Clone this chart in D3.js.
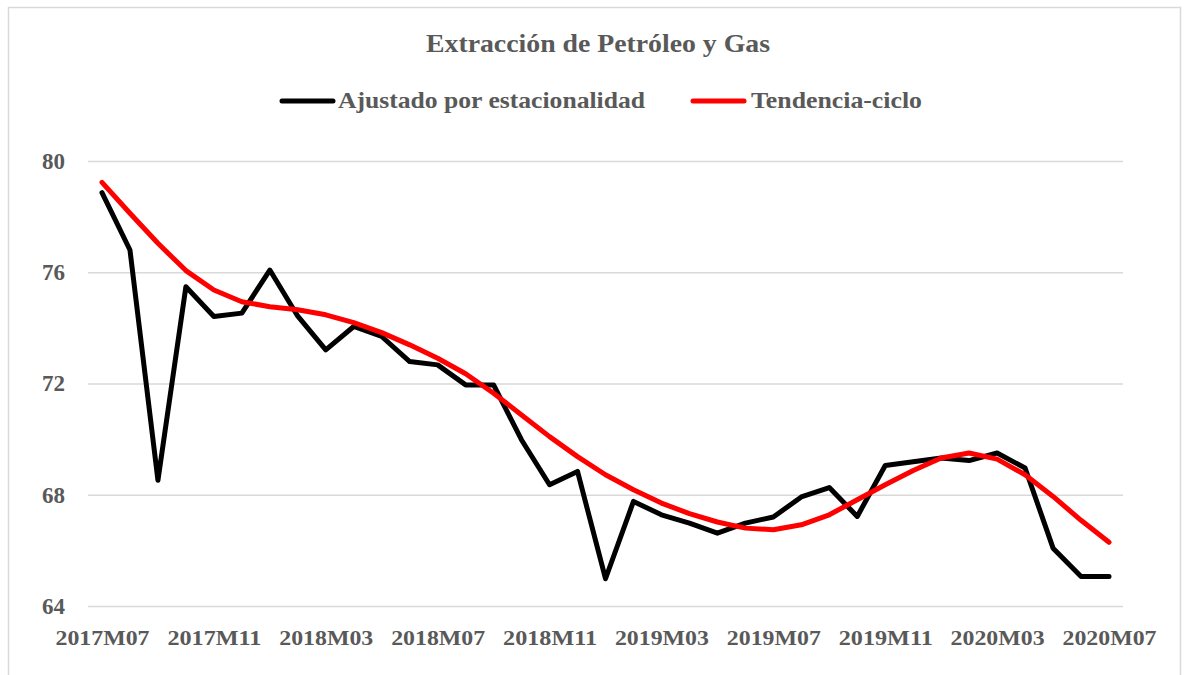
<!DOCTYPE html>
<html>
<head>
<meta charset="utf-8">
<script src="https://cdn.jsdelivr.net/npm/d3@7"></script>
<style>
  body { margin: 0; background: #fff; }
  text { font-family: "Liberation Serif", "DejaVu Serif", serif; font-weight: bold; fill: #595959; }
</style>
</head>
<body>
<div id="viz"></div>
<script>
// monthly periods 2017M07 .. 2020M07
const periods = [];
for (let y = 2017, m = 7; y < 2020 || (y === 2020 && m <= 7); ) {
    periods.push(y + "M" + String(m).padStart(2, "0"));
    m++;
    if (m > 12) { m = 1; y++; }
}

const ajustado = [78.86, 76.80, 68.52, 75.48, 74.41, 74.53, 76.08, 74.42, 73.21, 74.05,
    73.69, 72.79, 72.67, 71.95, 71.95, 69.97, 68.36, 68.84, 64.98, 67.76,
    67.28, 66.98, 66.62, 66.98, 67.20, 67.92, 68.26, 67.22, 69.05, 69.19,
    69.32, 69.23, 69.50, 68.96, 66.08, 65.06, 65.06];

const tendencia = [79.23, 78.12, 77.04, 76.06, 75.36, 74.94, 74.76, 74.65, 74.47, 74.19,
    73.83, 73.39, 72.91, 72.35, 71.65, 70.87, 70.09, 69.37, 68.72, 68.18,
    67.70, 67.32, 67.02, 66.80, 66.74, 66.92, 67.28, 67.82, 68.36, 68.87,
    69.32, 69.50, 69.28, 68.72, 67.94, 67.08, 66.29];

const yTicks = [64, 68, 72, 76, 80];
const xTickLabels = periods.filter((d, i) => i % 4 === 0);

const series = [
    {name: "Ajustado por estacionalidad", values: ajustado, color: "#000000"},
    {name: "Tendencia-ciclo", values: tendencia, color: "#ff0000"}
];

const W = 1188, H = 675;
const margin = {top: 161, right: 65, bottom: 69, left: 88},
    width = W - margin.left - margin.right,
    height = H - margin.top - margin.bottom;

const root = d3.select("#viz")
    .append("svg")
    .attr("width", W)
    .attr("height", H);

// outer chart border
root.append("rect")
    .attr("x", 8.5).attr("y", 7.5)
    .attr("width", 1172).attr("height", 700)
    .attr("fill", "none")
    .attr("stroke", "#d9d9d9")
    .attr("stroke-width", 1.5);

root.append("text")
    .attr("x", 426).attr("y", 52)
    .attr("textLength", 344)
    .attr("lengthAdjust", "spacingAndGlyphs")
    .style("font-size", "25px")
    .text("Extracción de Petróleo y Gas");

// legend
const legendItems = [
    {x: 282, tx: 338, len: 307},
    {x: 693, tx: 751, len: 171}
];
legendItems.forEach((p, i) => {
    root.append("line")
        .attr("x1", p.x).attr("x2", p.x + 51)
        .attr("y1", 101).attr("y2", 101)
        .attr("stroke", series[i].color)
        .attr("stroke-width", 5)
        .attr("stroke-linecap", "round");
    root.append("text")
        .attr("x", p.tx).attr("y", 108)
        .attr("textLength", p.len)
        .attr("lengthAdjust", "spacingAndGlyphs")
        .style("font-size", "23px")
        .text(series[i].name);
});

const svg = root.append("g")
    .attr("transform", "translate(" + margin.left + "," + margin.top + ")");

const xScale = d3.scalePoint()
    .domain(periods)
    .range([0, width])
    .padding(0.5);

const yScale = d3.scaleLinear()
    .domain([64, 80])
    .range([height, 0]);

// gridlines
svg.append("g")
    .call(d3.axisLeft(yScale).tickValues(yTicks).tickSize(-width).tickFormat(""))
    .call(g => g.select(".domain").remove())
    .call(g => g.selectAll(".tick line").attr("stroke", "#d9d9d9").attr("stroke-width", 1.5));

// y labels
svg.append("g")
    .call(d3.axisLeft(yScale).tickValues(yTicks).tickSize(0).tickPadding(23))
    .call(g => g.select(".domain").remove())
    .call(g => g.selectAll("text")
        .style("font-size", "23px")
        .style("font-family", "'Liberation Serif', serif")
        .attr("fill", "#595959"));

// x labels
svg.append("g")
    .attr("transform", "translate(0," + height + ")")
    .call(d3.axisBottom(xScale).tickValues(xTickLabels).tickSize(0).tickPadding(23))
    .call(g => g.select(".domain").remove())
    .call(g => g.selectAll("text")
        .style("font-size", "22px")
        .style("font-family", "'Liberation Serif', serif")
        .attr("fill", "#595959")
        .attr("textLength", 94)
        .attr("lengthAdjust", "spacingAndGlyphs"));

const line = d3.line()
    .x((d, i) => xScale(periods[i]))
    .y(d => yScale(d));

svg.selectAll(".series")
    .data(series)
    .enter().append("path")
    .attr("class", "series")
    .attr("d", d => line(d.values))
    .attr("fill", "none")
    .attr("stroke", d => d.color)
    .attr("stroke-width", 5)
    .attr("stroke-linejoin", "round")
    .attr("stroke-linecap", "round");
</script>
</body>
</html>
